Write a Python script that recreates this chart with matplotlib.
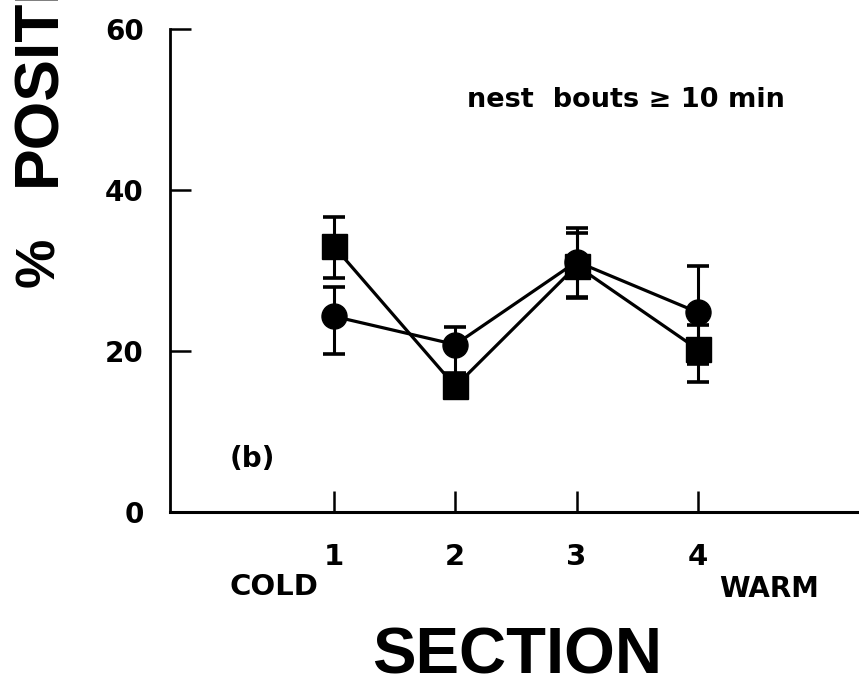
import matplotlib
matplotlib.use('Agg')
from matplotlib import pyplot as plt
import numpy as np

# mean % and error bar extents per section
sections = [1, 2, 3, 4]
circle_mean = [24.3, 20.8, 31.1, 24.8]
circle_err_lo = [4.7, 3.5, 4.4, 6.4]
circle_err_hi = [3.7, 2.2, 4.2, 5.8]
square_mean = [33.0, 15.6, 30.6, 20.2]
square_err_lo = [3.9, 1.2, 4.0, 4.1]
square_err_hi = [3.7, 1.2, 4.1, 3.0]
yticks = [0, 20, 40, 60]

W, H = 859, 685
plt.rcParams['font.family'] = ['DejaVu Sans']
big = ['Liberation Sans', 'DejaVu Sans']


def fx(x):
    return x / W


def fy(y):
    return 1 - y / H


fig = plt.figure(figsize=(W / 100, H / 100), dpi=100, facecolor='white')
ax = fig.add_axes([fx(170), fy(512), fx(W) - fx(170), fy(29) - fy(512)])

ax.plot(sections, circle_mean, color='black', lw=2.3, zorder=2)
ax.plot(sections, square_mean, color='black', lw=2.3, zorder=2)
ax.errorbar(sections, square_mean, yerr=[square_err_lo, square_err_hi], fmt='s',
            ms=18, color='black', ecolor='black', elinewidth=2.2, capsize=8,
            capthick=2.6, zorder=3)
ax.errorbar(sections, circle_mean, yerr=[circle_err_lo, circle_err_hi], fmt='o',
            ms=18, color='black', ecolor='black', elinewidth=2.2, capsize=8,
            capthick=2.6, zorder=4)

ax.set_xlim(-0.352, 5.328)
ax.set_ylim(0, 60)
for s in ['top', 'right']:
    ax.spines[s].set_visible(False)
ax.spines['left'].set_linewidth(2.0)
ax.spines['bottom'].set_linewidth(2.2)
ax.spines['left'].set_bounds(0, 60)

ax.set_xticks(sections)
ax.set_xticklabels([str(s) for s in sections])
ax.set_yticks(yticks)
ax.set_yticklabels([str(v) for v in yticks])
ax.tick_params(axis='both', direction='in', length=15, width=1.8, colors='black')
ax.tick_params(axis='x', pad=22, labelsize=21)
ax.tick_params(axis='y', pad=19, labelsize=20)
for lab in ax.get_xticklabels() + ax.get_yticklabels():
    lab.set_fontweight('bold')

fig.text(fx(318), fy(595), 'COLD', ha='right', va='baseline', fontsize=21,
         fontweight='bold')
fig.text(fx(719), fy(597), 'WARM', ha='left', va='baseline', fontsize=20,
         fontweight='bold')
fig.text(fx(517), fy(673), 'SECTION', ha='center', va='baseline', fontsize=47,
         fontweight='bold', family=big)
fig.text(fx(40), fy(287), '%', rotation=90, ha='center', va='bottom',
         fontsize=40, fontweight='bold', family=big)
fig.text(fx(39), fy(186), 'POSITION', rotation=90, ha='center', va='bottom',
         fontsize=45, fontweight='bold', family=big)
fig.text(fx(467), fy(107), 'nest  bouts \u2265 10 min', ha='left', va='baseline',
         fontsize=19.5, fontweight='bold')
fig.text(fx(230), fy(459), '(b)', ha='left', va='center', fontsize=20,
         fontweight='bold')

fig.savefig('out.png', dpi=100, facecolor='white')
